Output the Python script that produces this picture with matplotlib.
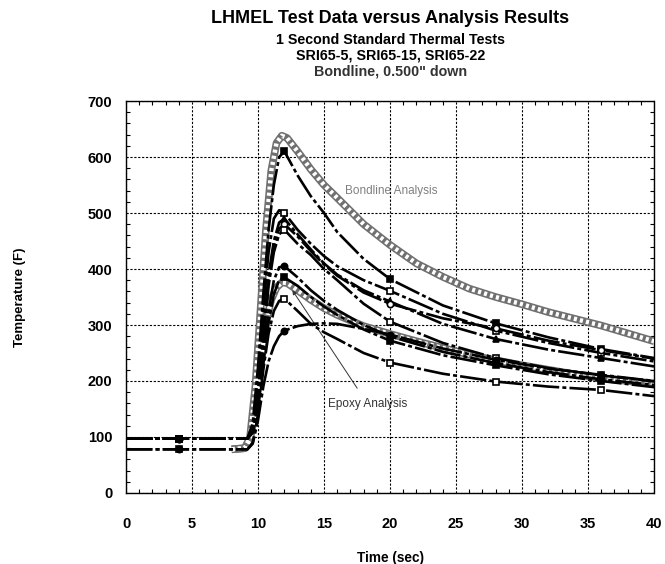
import matplotlib
matplotlib.use("Agg")
import matplotlib.pyplot as plt
from matplotlib.ticker import MultipleLocator

# Test data, sampled at common times (sec) -> temperature (F)
t_test = [0, 4, 9.2, 9.6, 10.0, 10.4, 10.8, 11.2, 11.6, 12, 13, 14, 15, 16, 18, 20, 24, 28, 32, 36, 40]
test_a = [97, 97, 97, 125, 225, 355, 470, 550, 600, 610, 567, 530, 500, 466, 418, 382, 335, 303, 278, 257, 241]
test_b = [97, 97, 97, 120, 210, 330, 430, 490, 505, 500, 470, 445, 423, 405, 380, 361, 320, 290, 268, 250, 235]
test_c = [97, 97, 97, 112, 180, 290, 390, 450, 483, 490, 462, 435, 410, 390, 362, 342, 302, 275, 256, 241, 226]
test_d = [97, 97, 97, 110, 175, 280, 380, 440, 472, 480, 458, 432, 408, 388, 358, 338, 312, 294, 272, 255, 240]
test_e = [97, 97, 97, 108, 170, 270, 370, 430, 462, 470, 445, 425, 400, 380, 338, 306, 268, 241, 223, 210, 199]
test_f = [97, 97, 97, 110, 160, 245, 325, 380, 403, 405, 385, 362, 343, 327, 300, 280, 252, 232, 216, 203, 193]
test_g = [97, 97, 97, 108, 150, 230, 305, 355, 380, 385, 370, 350, 333, 318, 292, 272, 246, 228, 212, 200, 189]
test_h = [78, 78, 78, 90, 140, 220, 285, 325, 343, 347, 325, 302, 287, 275, 250, 233, 213, 199, 190, 184, 173]
test_i = [78, 78, 78, 88, 130, 190, 235, 262, 280, 290, 298, 302, 303, 302, 293, 283, 258, 238, 222, 211, 200]

# Analysis results
t_an = [8, 9, 9.4, 9.8, 10.2, 10.6, 11.0, 11.4, 11.8, 12.2, 13, 14, 15, 16, 18, 20,
        22, 24, 26, 28, 30, 32, 34, 36, 38, 40]
bondline = [78, 80, 100, 190, 330, 470, 575, 625, 638, 634, 610, 578, 550, 527, 480, 443,
            410, 386, 365, 350, 337, 323, 311, 299, 285, 271]
epoxy = [78, 80, 95, 150, 235, 305, 345, 367, 376, 375, 362, 345, 330, 318, 298, 284,
         271, 259, 247, 237, 228, 220, 212, 205, 200, 196]

tests = [
    (test_a, 's', 'k'),
    (test_b, 's', 'w'),
    (test_c, '^', 'k'),
    (test_d, 'o', 'w'),
    (test_e, 's', 'w'),
    (test_f, 'o', 'k'),
    (test_g, 's', 'k'),
    (test_h, 's', 'w'),
    (test_i, 'o', 'k'),
]
marks = [1, 9, 15, 17, 19]


def main():
    plt.rcParams['font.family'] = ['Liberation Sans', 'DejaVu Sans']
    fig = plt.figure(figsize=(6.65, 5.64), dpi=100)
    ax = fig.add_axes([0.1895, 0.1259, 0.794, 0.695])

    # hatched analysis curves
    for series in (bondline, epoxy):
        ax.plot(t_an, series, color='#707070', lw=5.5, solid_capstyle='butt', zorder=3)
        ax.plot(t_an, series, color='white', lw=3.2, ls=(0, (0.7, 0.7)), zorder=3.1)

    for series, m, fc in tests:
        ax.plot(t_test, series, color='black', lw=1.9, ls=(0, (10, 1.2, 1.5, 1.2)),
                marker=m, markevery=marks, ms=4.5, mfc=fc, mec='black', mew=1.2, zorder=4)

    ax.text(16.6, 539, 'Bondline Analysis', fontsize=8.5, color='#808080', va='center')
    ax.annotate('Epoxy Analysis', xy=(12.6, 362), xytext=(15.3, 159),
                fontsize=8.5, color='#333333', va='center',
                arrowprops=dict(arrowstyle='-|>', color='#333333', lw=0.7,
                                shrinkA=6, shrinkB=0, mutation_scale=6))

    ax.set_xlim(0, 40)
    ax.set_ylim(0, 700)
    ax.xaxis.set_major_locator(MultipleLocator(5))
    ax.xaxis.set_minor_locator(MultipleLocator(1))
    ax.yaxis.set_major_locator(MultipleLocator(100))
    ax.yaxis.set_minor_locator(MultipleLocator(20))
    ax.tick_params(which='both', direction='in', top=True, right=True)
    ax.tick_params(which='major', length=0, labelsize=10.5, pad=10)
    ax.tick_params(axis='x', which='major', pad=17)
    ax.tick_params(which='minor', length=3, width=0.8)
    for lab in ax.get_xticklabels() + ax.get_yticklabels():
        lab.set_fontweight('bold')

    ax.grid(True, which='major', color='black', lw=0.8, ls=(0, (2, 1.5)))
    for sp in ax.spines.values():
        sp.set_linestyle((0, (2, 1)))
        sp.set_linewidth(1.0)

    ax.set_xlabel('Time (sec)', fontsize=9.8, fontweight='bold', labelpad=15)
    ax.set_ylabel('Temperature (F)', fontsize=9.5, fontweight='bold', labelpad=44)

    fig.text(0.587, 0.968, 'LHMEL Test Data versus Analysis Results',
             ha='center', va='center', fontsize=13, fontweight='bold')
    fig.text(0.587, 0.929, '1 Second Standard Thermal Tests',
             ha='center', va='center', fontsize=10.3, fontweight='bold')
    fig.text(0.587, 0.901, 'SRI65-5, SRI65-15, SRI65-22',
             ha='center', va='center', fontsize=10.3, fontweight='bold')
    fig.text(0.587, 0.873, 'Bondline, 0.500" down',
             ha='center', va='center', fontsize=10.3, fontweight='bold', color='#333333')

    fig.savefig('out.png', dpi=100)


if __name__ == "__main__":
    main()
